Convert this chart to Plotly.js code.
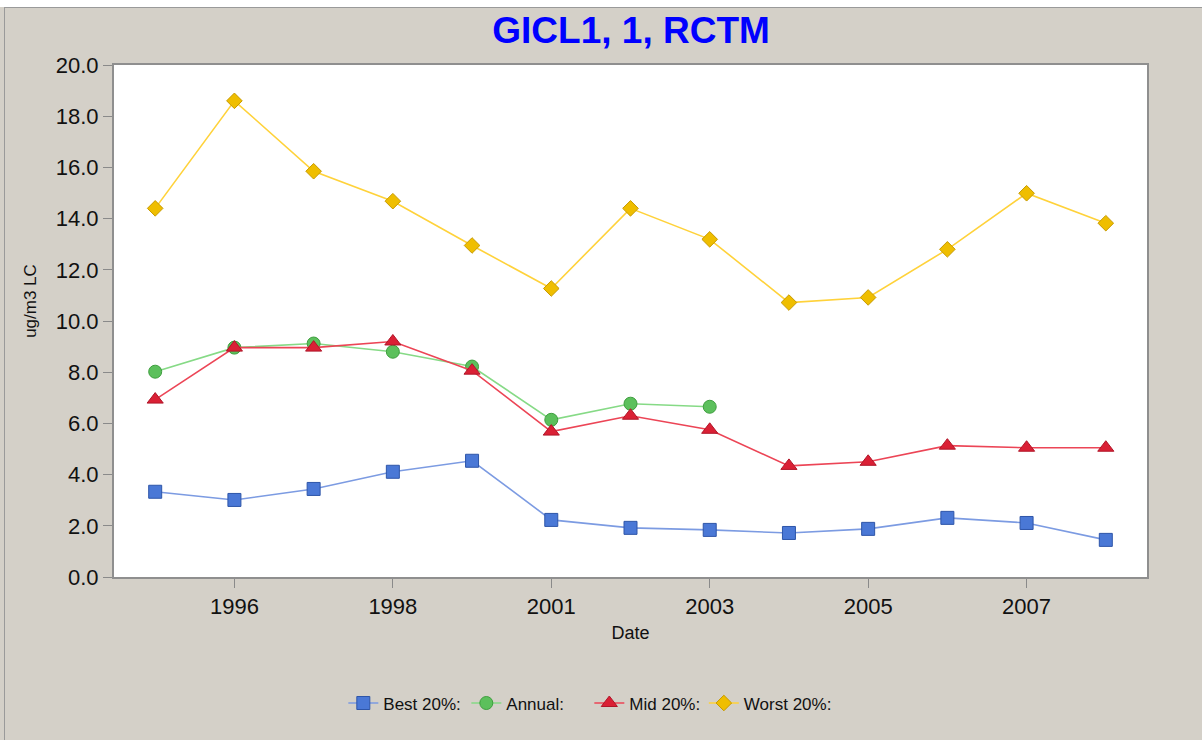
<!DOCTYPE html>
<html>
<head>
<meta charset="utf-8">
<script src="https://cdn.plot.ly/plotly-3.0.1.min.js"></script>
<style>
  html, body { margin: 0; padding: 0; background: #ffffff; }
  #frame { position: absolute; left: 0; top: 0; width: 1202px; height: 740px; background: #D4D0C8; }
  #edge { position: absolute; left: 4px; top: 7px; width: 1198px; height: 733px; border-top: 1px solid #9a9a9a; border-left: 1px solid #9a9a9a; box-sizing: border-box; pointer-events: none; }
  #topstrip { position: absolute; left: 0; top: 0; width: 1202px; height: 7px; background: #ffffff; }
  #chart { position: absolute; left: 0; top: 0; width: 1202px; height: 740px; }
</style>
</head>
<body>
<div id="frame"></div>
<div id="chart"></div>
<div id="topstrip"></div>
<div id="edge"></div>
<script>
// ---- data ----
const years = ['1995','1996','1997','1998','1999','2001','2002','2003','2004','2005','2006','2007','2008'];
const tickYears = ['1996','1998','2001','2003','2005','2007'];
const best20   = [3.33, 3.01, 3.44, 4.11, 4.54, 2.23, 1.92, 1.84, 1.72, 1.88, 2.31, 2.11, 1.45];
const annual   = [8.02, 8.96, 9.12, 8.80, 8.22, 6.14, 6.77, 6.65];
const mid20    = [6.93, 8.96, 8.96, 9.20, 8.06, 5.68, 6.30, 5.75, 4.34, 4.50, 5.13, 5.05, 5.05];
const worst20  = [14.40, 18.60, 15.85, 14.68, 12.95, 11.27, 14.40, 13.19, 10.72, 10.92, 12.80, 14.99, 13.82];
const yTicks   = [0, 2, 4, 6, 8, 10, 12, 14, 16, 18, 20];

const FONT = 'Arial, "Liberation Sans", sans-serif';

const traces = [
  { name: 'Best 20%:', x: years, y: best20, mode: 'lines+markers', type: 'scatter',
    line: { color: '#7C9BE2', width: 1.6 },
    marker: { symbol: 'square', size: 13, color: '#4A78D6', line: { color: '#2E55A8', width: 1 } } },
  { name: 'Annual:', x: years.slice(0, annual.length), y: annual, mode: 'lines+markers', type: 'scatter',
    line: { color: '#86DA86', width: 1.6 },
    marker: { symbol: 'circle', size: 13, color: '#5CC05C', line: { color: '#3E9E3E', width: 1 } } },
  { name: 'Mid 20%:', x: years, y: mid20, mode: 'lines+markers', type: 'scatter',
    line: { color: '#EC4556', width: 1.6 },
    marker: { symbol: 'triangle-up', size: 14, color: '#DA2035', line: { color: '#B01528', width: 1 } } },
  { name: 'Worst 20%:', x: years, y: worst20, mode: 'lines+markers', type: 'scatter', legend: 'legend2',
    line: { color: '#FFD23A', width: 1.6 },
    marker: { symbol: 'diamond', size: 12, color: '#EFBE00', line: { color: '#C79A00', width: 1 } } }
];

const legendBase = { orientation: 'h', xanchor: 'left', y: -0.247, yanchor: 'middle',
  font: { family: FONT, size: 17, color: '#111111' }, itemwidth: 30,
  bgcolor: 'rgba(0,0,0,0)', traceorder: 'normal' };

const layout = {
  width: 1202, height: 740,
  paper_bgcolor: 'rgba(0,0,0,0)',
  plot_bgcolor: '#ffffff',
  margin: { l: 114, r: 55, t: 65, b: 163, pad: 0 },
  font: { family: FONT, color: '#111111' },
  title: { text: '<b>GICL1, 1, RCTM</b>', font: { family: FONT, size: 37, color: '#0000FF' },
           x: 0.525, xanchor: 'center', y: 0.96, yanchor: 'middle' },
  showlegend: true,
  legend: Object.assign({}, legendBase, { x: 0.222, entrywidth: 78 }),
  legend2: Object.assign({}, legendBase, { x: 0.571 }),
  xaxis: {
    type: 'category', categoryorder: 'array', categoryarray: years,
    range: [-0.52, 12.52],
    tickmode: 'array', tickvals: tickYears, ticktext: tickYears,
    ticks: 'outside', ticklen: 9, tickcolor: '#8a8a8a', tickwidth: 1,
    tickfont: { family: FONT, size: 22, color: '#111111' },
    showline: true, linecolor: '#8f8f8f', linewidth: 2, mirror: true,
    showgrid: false, zeroline: false,
    title: { text: 'Date', font: { family: FONT, size: 18, color: '#111111' }, standoff: 8 }
  },
  yaxis: {
    range: [0, 20], tickmode: 'array', tickvals: yTicks,
    ticktext: yTicks.map(v => v.toFixed(1)),
    ticks: 'outside', ticklen: 9, tickcolor: '#8a8a8a', tickwidth: 1,
    tickfont: { family: FONT, size: 22, color: '#111111' },
    showline: true, linecolor: '#8f8f8f', linewidth: 2, mirror: true,
    showgrid: false, zeroline: false
  },
  annotations: [
    { text: 'ug/m3 LC', textangle: -90, xref: 'paper', yref: 'paper',
      x: -0.081, y: 0.54, xanchor: 'center', yanchor: 'middle', showarrow: false,
      font: { family: FONT, size: 17, color: '#111111' } }
  ]
};

Plotly.newPlot('chart', traces, layout, { displayModeBar: false, staticPlot: true });
</script>
</body>
</html>
